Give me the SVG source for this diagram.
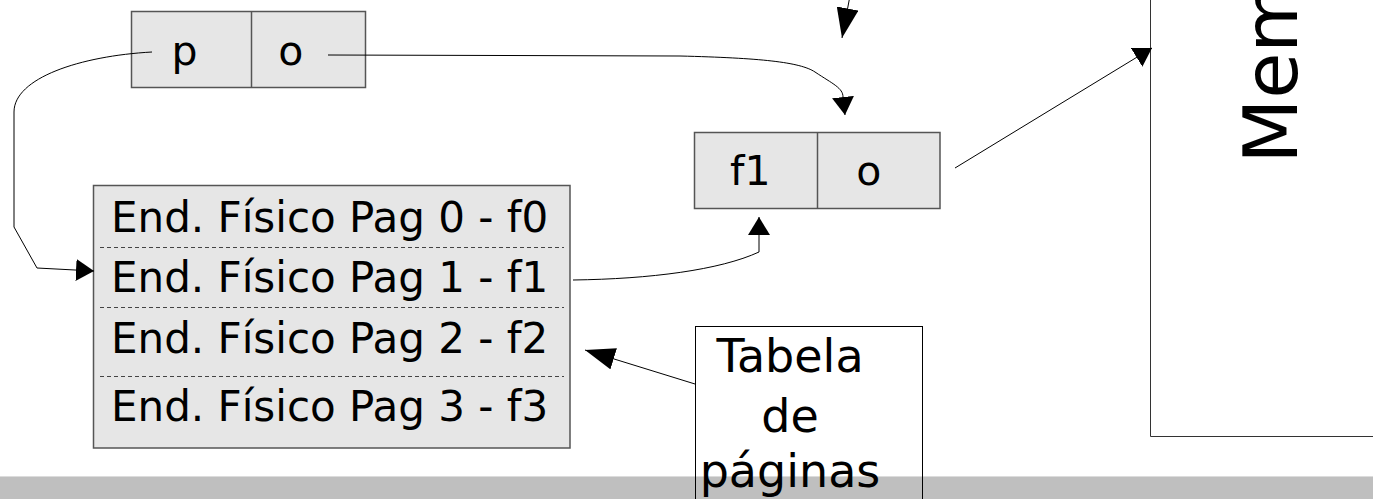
<svg xmlns="http://www.w3.org/2000/svg" width="1373" height="499" viewBox="0 0 1373 499">
<style>
.box{fill:#e6e6e6;stroke:#555;stroke-width:1.5}
.frame{fill:none;stroke:#333;stroke-width:1}
.t{font-family:"DejaVu Sans",sans-serif;fill:#000}
.c{fill:none;stroke:#000;stroke-width:1}
.dash{stroke:#444;stroke-width:1;stroke-dasharray:4,3}
</style>
<defs>
<marker id="ah" viewBox="0 0 18 22" refX="18" refY="11" markerWidth="18" markerHeight="22" markerUnits="userSpaceOnUse" orient="auto">
<path d="M0,0 L18,11 L0,22 Z" fill="#000"/>
</marker>
<marker id="ahL" viewBox="0 0 30 22" refX="30" refY="11" markerWidth="30" markerHeight="22" markerUnits="userSpaceOnUse" orient="auto">
<path d="M0,0 L30,11 L0,22 Z" fill="#000"/>
</marker>
</defs>
<rect width="1373" height="499" fill="#fff"/>
<rect x="0" y="476.5" width="1373" height="22.5" fill="#bfbfbf"/>
<line x1="0" y1="476.5" x2="1373" y2="476.5" stroke="#dcdcdc" stroke-width="1"/>

<g id="memoria">
<path class="frame" d="M1150.5,-2 L1150.5,436.5 L1375,436.5"/>
<text class="t" font-size="75" transform="translate(1297,163.5) rotate(-90)">Memória</text>
</g>

<g id="logical-address">
<rect class="box" x="131.5" y="11.5" width="234" height="76"/>
<line x1="251.5" y1="11.5" x2="251.5" y2="87.5" stroke="#555" stroke-width="1.5"/>
<text class="t" font-size="41" x="184.5" y="65" text-anchor="middle">p</text>
<text class="t" font-size="41" x="290.7" y="65" text-anchor="middle">o</text>
</g>

<g id="physical-address">
<rect class="box" x="694.5" y="132.5" width="245.5" height="76"/>
<line x1="817.5" y1="132.5" x2="817.5" y2="208.5" stroke="#555" stroke-width="1.5"/>
<text class="t" font-size="41" x="750.3" y="185" text-anchor="middle">f1</text>
<text class="t" font-size="41" x="868.7" y="185" text-anchor="middle">o</text>
</g>

<g id="page-table">
<rect class="box" x="93.5" y="185.5" width="476.5" height="262.5"/>
<line class="dash" x1="100" y1="247.5" x2="564" y2="247.5"/>
<line class="dash" x1="100" y1="307.5" x2="564" y2="307.5"/>
<line class="dash" x1="100" y1="376.5" x2="564" y2="376.5"/>
<text class="t" font-size="42" x="111" y="232">End. Físico Pag 0 - f0</text>
<text class="t" font-size="42" x="111" y="292">End. Físico Pag 1 - f1</text>
<text class="t" font-size="42" x="111" y="353">End. Físico Pag 2 - f2</text>
<text class="t" font-size="42" x="111" y="421">End. Físico Pag 3 - f3</text>
</g>

<g id="label-tabela">
<rect x="695.5" y="326.5" width="227" height="190" fill="none" stroke="#000" stroke-width="1"/>
<text class="t" font-size="46" text-anchor="middle"><tspan x="790" y="372">Tabela</tspan><tspan x="790" y="432">de</tspan><tspan x="790" y="487">páginas</tspan></text>
</g>

<g id="connectors">
<path class="c" d="M152,52 C80,56 14,78 14,112 L14,227 L37,268 L75,270 L94,271" marker-end="url(#ah)"/>
<path class="c" d="M328,55 L680,56 C760,58 800,62 815,72 C833,84 843,88 843,97 L845,115" marker-end="url(#ah)"/>
<path class="c" d="M573,280 C650,279 720,270 759,252 L759,236 L759,217" marker-end="url(#ah)"/>
<path class="c" d="M955,168 L1152,48" marker-end="url(#ah)"/>
<path class="c" d="M695,384 L585,350" marker-end="url(#ahL)"/>
<path class="c" d="M853,-20 L842,38" marker-end="url(#ahL)"/>
</g>
</svg>
